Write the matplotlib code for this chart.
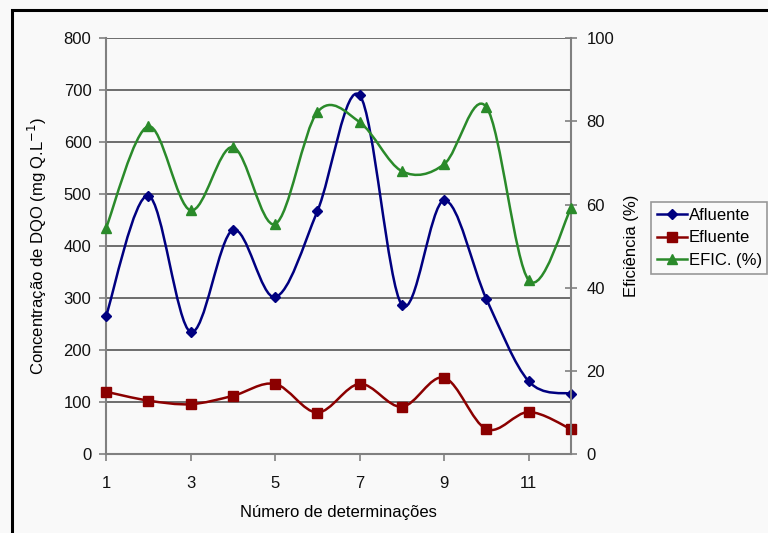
import numpy as np
import matplotlib
matplotlib.use('Agg')
import matplotlib.pyplot as plt
from matplotlib.path import Path
from matplotlib.patches import PathPatch, Rectangle
from matplotlib.lines import Line2D

plt.rcParams['font.family'] = ['Liberation Sans', 'DejaVu Sans']

# dados
determinacoes = [1, 2, 3, 4, 5, 6, 7, 8, 9, 10, 11, 12]
afluente = [265, 497, 235, 431, 302, 467, 690, 287, 488, 298, 140, 116]
efluente = [120, 103, 96, 112, 135, 80, 135, 91, 147, 48, 81, 48]
eficiencia = [54.3, 78.8, 58.6, 73.8, 55.3, 82.2, 79.8, 68.0, 69.7, 83.4, 41.8, 59.1]
ticks_x = [1, 3, 5, 7, 9, 11]
ticks_esq = [0, 100, 200, 300, 400, 500, 600, 700, 800]
ticks_dir = [0, 20, 40, 60, 80, 100]

AZUL = '#000080'
VERMELHO = '#8b0000'
VERDE = '#2a8a2a'
CINZA = '#808080'
FS = 12


def curva_suave(xs, ys):
    # bezier estilo Excel (linha suavizada)
    x = np.asarray(xs, float)
    y = np.asarray(ys, float)
    n = len(x)
    verts = [(x[0], y[0])]
    codes = [Path.MOVETO]
    for i in range(n - 1):
        i0 = max(i - 1, 0)
        i3 = min(i + 2, n - 1)
        c1 = (x[i] + (x[i + 1] - x[i0]) / 6, y[i] + (y[i + 1] - y[i0]) / 6)
        c2 = (x[i + 1] - (x[i3] - x[i]) / 6, y[i + 1] - (y[i3] - y[i]) / 6)
        verts += [c1, c2, (x[i + 1], y[i + 1])]
        codes += [Path.CURVE4] * 3
    return Path(verts, codes)


fig = plt.figure(figsize=(7.68, 5.33), dpi=100, facecolor='#f9f9f9')
ax = fig.add_axes([0.138, 0.148, 0.6055, 0.7805])
ax.set_facecolor('#f9f9f9')
ax2 = ax.twinx()

ax.set_xlim(1, 12)
ax.set_ylim(0, 800)
ax2.set_ylim(0, 100)

for v in ticks_esq[1:]:
    ax.axhline(v, color='#555555', lw=1.2, zorder=1)

ax.add_patch(PathPatch(curva_suave(determinacoes, afluente), fill=False, ec=AZUL, lw=1.8, zorder=3))
ax.plot(determinacoes, afluente, ls='none', marker='D', ms=5, color=AZUL, zorder=4, clip_on=False)
ax.add_patch(PathPatch(curva_suave(determinacoes, efluente), fill=False, ec=VERMELHO, lw=1.8, zorder=3))
ax.plot(determinacoes, efluente, ls='none', marker='s', ms=7, color=VERMELHO, zorder=4, clip_on=False)
ax2.add_patch(PathPatch(curva_suave(determinacoes, eficiencia), fill=False, ec=VERDE, lw=1.8, zorder=3))
ax2.plot(determinacoes, eficiencia, ls='none', marker='^', ms=7, color=VERDE, zorder=4, clip_on=False)

ax.set_xticks(ticks_x)
ax.set_yticks(ticks_esq)
ax2.set_yticks(ticks_dir)
for a in (ax, ax2):
    for s in a.spines.values():
        s.set_visible(False)
ax.spines['left'].set_visible(True)
ax.spines['bottom'].set_visible(True)
ax2.spines['right'].set_visible(True)
for s in (ax.spines['left'], ax.spines['bottom'], ax2.spines['right']):
    s.set_color(CINZA)
    s.set_linewidth(1.5)
ax.tick_params(axis='both', colors=CINZA, labelcolor='#111111', labelsize=FS, length=5, width=1.2)
ax.tick_params(axis='y', pad=5.5)
ax.tick_params(axis='x', pad=11)
ax2.tick_params(axis='y', colors=CINZA, labelcolor='#111111', labelsize=FS, length=8, width=1.2,
                direction='inout', pad=7)

ax.set_xlabel('Número de determinações', fontsize=FS)
ax.set_ylabel('Concentração de DQO (mg Q.L$^{-1}$)', fontsize=FS)
ax2.set_ylabel('Eficiência (%)', fontsize=FS)
ax.xaxis.set_label_coords(0.5, -0.122)
ax.yaxis.set_label_coords(-0.123, 0.5)
ax2.yaxis.set_label_coords(1.113, 0.5)

handles = [
    Line2D([], [], color=AZUL, marker='D', ms=5, lw=1.8),
    Line2D([], [], color=VERMELHO, marker='s', ms=7, lw=1.8),
    Line2D([], [], color=VERDE, marker='^', ms=7, lw=1.8),
]
leg = fig.legend(handles, ['Afluente', 'Efluente', 'EFIC. (%)'], loc='upper left',
                 bbox_to_anchor=(0.8477, 0.621), fontsize=FS, frameon=True, fancybox=False,
                 handlelength=1.8, handletextpad=0.1, borderpad=0.35, labelspacing=0.45,
                 borderaxespad=0)
leg.get_frame().set_edgecolor(CINZA)
leg.get_frame().set_facecolor('#f9f9f9')
leg.get_frame().set_linewidth(1.2)

# moldura preta
fig.add_artist(Rectangle((12 / 768, -0.1), 1.2, 1 - 10 / 533 + 0.1, transform=fig.transFigure,
                         fill=False, ec='black', lw=2.2))

fig.savefig('out.png', dpi=100, facecolor=fig.get_facecolor())
